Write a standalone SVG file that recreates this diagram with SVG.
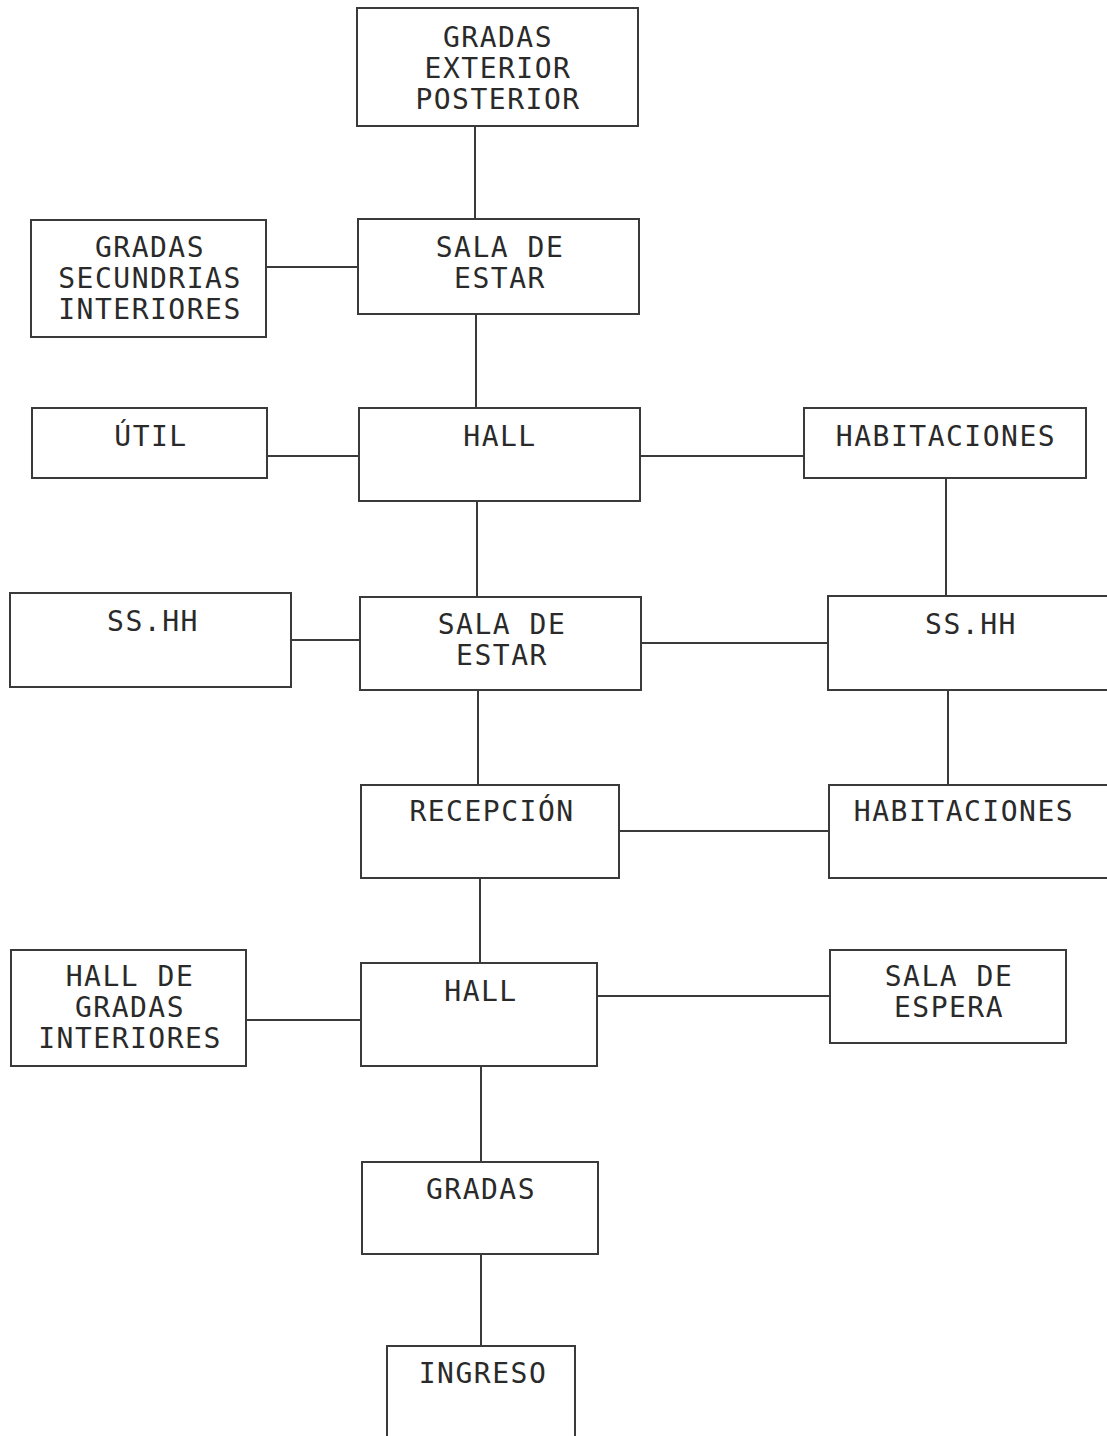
<svg xmlns="http://www.w3.org/2000/svg" width="1107" height="1436" viewBox="0 0 1107 1436">
<style>
.b{fill:#fff;stroke:#3a3a3a;stroke-width:2}
.c line{stroke:#3a3a3a;stroke-width:2}
text{font-family:"DejaVu Sans Mono","Liberation Mono",monospace;font-size:28px;letter-spacing:1.5px;fill:#2a2a2a;text-anchor:middle}
</style>
<rect width="1107" height="1436" fill="#fff"/>
<g class="c" id="connectors">
<line x1="475" y1="126" x2="475" y2="219"/>
<line x1="266" y1="267" x2="358" y2="267"/>
<line x1="476" y1="314" x2="476" y2="408"/>
<line x1="267" y1="456" x2="359" y2="456"/>
<line x1="640" y1="456" x2="804" y2="456"/>
<line x1="477" y1="501" x2="477" y2="597"/>
<line x1="946" y1="478" x2="946" y2="596"/>
<line x1="291" y1="640" x2="360" y2="640"/>
<line x1="641" y1="643" x2="828" y2="643"/>
<line x1="478" y1="690" x2="478" y2="785"/>
<line x1="948" y1="690" x2="948" y2="785"/>
<line x1="619" y1="831" x2="829" y2="831"/>
<line x1="480" y1="878" x2="480" y2="963"/>
<line x1="246" y1="1020" x2="361" y2="1020"/>
<line x1="597" y1="996" x2="830" y2="996"/>
<line x1="481" y1="1066" x2="481" y2="1162"/>
<line x1="481" y1="1254" x2="481" y2="1346"/>
</g>
<g id="gradas-exterior"><rect class="b" x="357" y="8" width="281" height="118"/><text x="498" y="47">GRADAS</text><text x="498" y="78">EXTERIOR</text><text x="498" y="109">POSTERIOR</text></g>
<g id="gradas-secundrias"><rect class="b" x="31" y="220" width="235" height="117"/><text x="150" y="257">GRADAS</text><text x="150" y="288">SECUNDRIAS</text><text x="150" y="319">INTERIORES</text></g>
<g id="sala-estar-1"><rect class="b" x="358" y="219" width="281" height="95"/><text x="500" y="257">SALA DE</text><text x="500" y="288">ESTAR</text></g>
<g id="util"><rect class="b" x="32" y="408" width="235" height="70"/><text x="151" y="446">ÚTIL</text></g>
<g id="hall-1"><rect class="b" x="359" y="408" width="281" height="93"/><text x="500" y="446">HALL</text></g>
<g id="habitaciones-1"><rect class="b" x="804" y="408" width="282" height="70"/><text x="946" y="446">HABITACIONES</text></g>
<g id="sshh-left"><rect class="b" x="10" y="593" width="281" height="94"/><text x="153" y="631">SS.HH</text></g>
<g id="sala-estar-2"><rect class="b" x="360" y="597" width="281" height="93"/><text x="502" y="634">SALA DE</text><text x="502" y="665">ESTAR</text></g>
<g id="sshh-right"><rect class="b" x="828" y="596" width="290" height="94"/><text x="971" y="634">SS.HH</text></g>
<g id="recepcion"><rect class="b" x="361" y="785" width="258" height="93"/><text x="492" y="821">RECEPCIÓN</text></g>
<g id="habitaciones-2"><rect class="b" x="829" y="785" width="290" height="93"/><text x="964" y="821">HABITACIONES</text></g>
<g id="hall-gradas"><rect class="b" x="11" y="950" width="235" height="116"/><text x="130" y="986">HALL DE</text><text x="130" y="1017">GRADAS</text><text x="130" y="1048">INTERIORES</text></g>
<g id="hall-2"><rect class="b" x="361" y="963" width="236" height="103"/><text x="481" y="1001">HALL</text></g>
<g id="sala-espera"><rect class="b" x="830" y="950" width="236" height="93"/><text x="949" y="986">SALA DE</text><text x="949" y="1017">ESPERA</text></g>
<g id="gradas"><rect class="b" x="362" y="1162" width="236" height="92"/><text x="481" y="1199">GRADAS</text></g>
<g id="ingreso"><rect class="b" x="387" y="1346" width="188" height="100"/><text x="483" y="1383">INGRESO</text></g>
</svg>
